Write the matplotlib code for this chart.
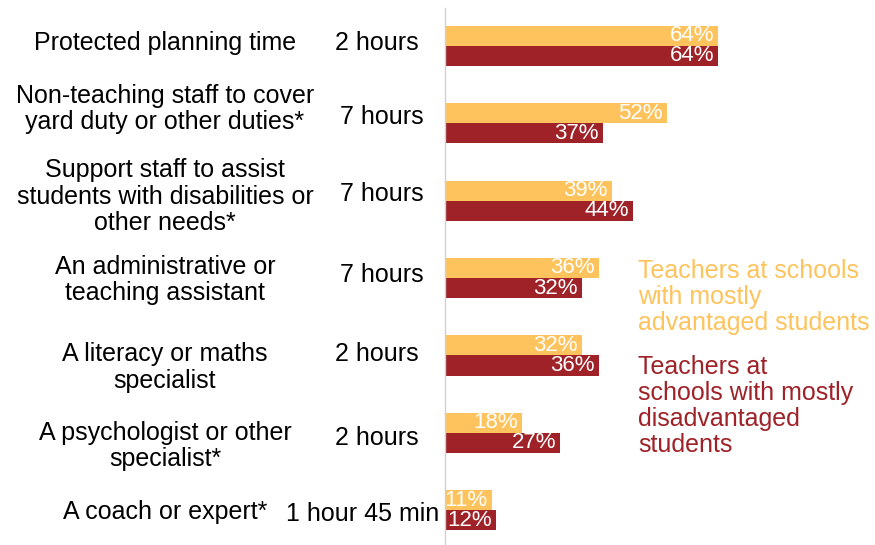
import matplotlib.pyplot as plt
from matplotlib.transforms import blended_transform_factory

plt.rcParams['font.family'] = ['Liberation Sans', 'DejaVu Sans']

categories = [
    "Protected planning time",
    "Non-teaching staff to cover\nyard duty or other duties*",
    "Support staff to assist\nstudents with disabilities or\nother needs*",
    "An administrative or\nteaching assistant",
    "A literacy or maths\nspecialist",
    "A psychologist or other\nspecialist*",
    "A coach or expert*",
]
hours = ["2 hours", "7 hours", "7 hours", "7 hours", "2 hours", "2 hours", "1 hour 45 min"]
advantaged = [64, 52, 39, 36, 32, 18, 11]
disadvantaged = [64, 37, 44, 32, 36, 27, 12]

YELLOW = "#FEC35C"
RED = "#9E2228"
FS = 18
VAL_FS = 16

fig = plt.figure(figsize=(8.75, 5.45), dpi=100)
W, H = 875, 545
ax = fig.add_axes([445 / W, 0, 427 / W, 537 / H])

y = list(range(len(categories)))
bh = 0.26
ax.barh([i - bh / 2 for i in y], advantaged, height=bh, color=YELLOW)
ax.barh([i + bh / 2 for i in y], disadvantaged, height=bh, color=RED)

for i in y:
    ax.text(advantaged[i] - 1, i - bh / 2, f"{advantaged[i]}%", ha='right', va='center',
            color='white', fontsize=VAL_FS)
    ax.text(disadvantaged[i] - 1, i + bh / 2, f"{disadvantaged[i]}%", ha='right', va='center',
            color='white', fontsize=VAL_FS)

ax.set_xlim(0, 100)
ax.set_ylim(6.45, -0.49)
for s in ['top', 'right', 'bottom']:
    ax.spines[s].set_visible(False)
ax.spines['left'].set_color('#d0d0d0')
ax.spines['left'].set_linewidth(1)
ax.set_xticks([])
ax.set_yticks([])

# category names and hours column: figure-x, data-y (small nudges in pixels)
bt = blended_transform_factory(fig.transFigure, ax.transData)
px = 77.4  # pixels per category row
hour_x = [377, 382, 382, 382, 377, 377, 363]
cat_dy = [-3, -14, -4, 2, 12, 13, 2]
hour_dy = [-3, -6, -7, -3, -1, 5, 4]
for i in y:
    ax.text(165 / W, i + cat_dy[i] / px, categories[i], transform=bt, ha='center',
            va='center', fontsize=FS, linespacing=1.12, clip_on=False)
    ax.text(hour_x[i] / W, i + hour_dy[i] / px, hours[i], transform=bt, ha='center',
            va='center', fontsize=FS, clip_on=False)

fig.text(638 / W, 1 - 297 / H, "Teachers at schools\nwith mostly\nadvantaged students",
         color=YELLOW, fontsize=FS, ha='left', va='center', linespacing=1.12)
fig.text(638 / W, 1 - 406 / H, "Teachers at\nschools with mostly\ndisadvantaged\nstudents",
         color=RED, fontsize=FS, ha='left', va='center', linespacing=1.12)

fig.savefig("out.png", dpi=100)
